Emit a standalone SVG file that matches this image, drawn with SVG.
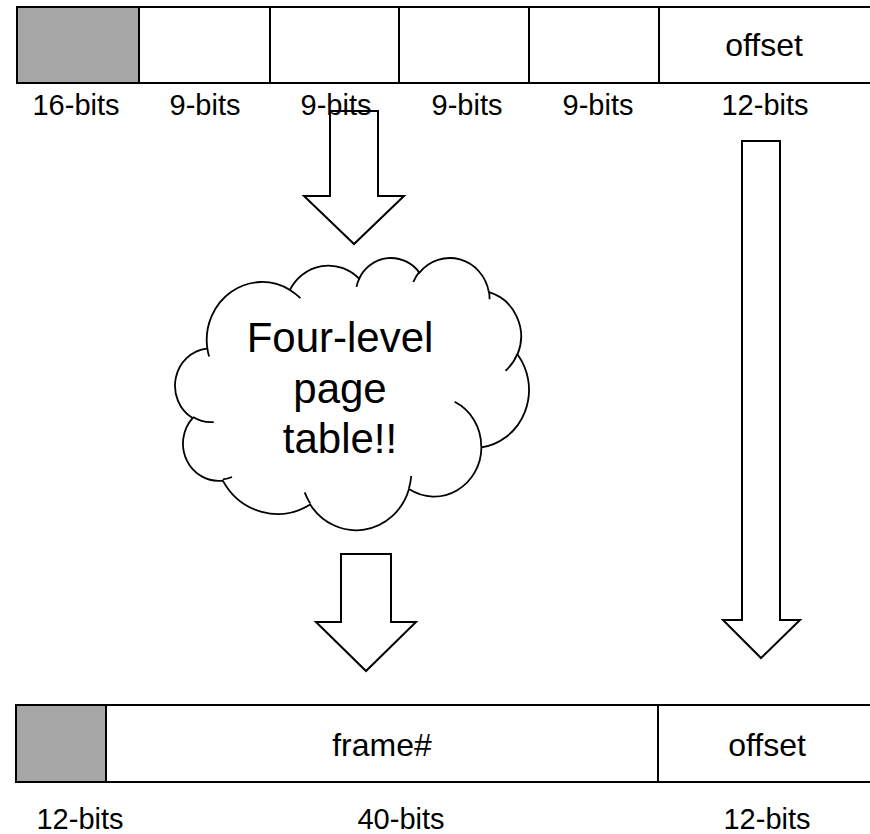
<svg xmlns="http://www.w3.org/2000/svg" width="870" height="834" viewBox="0 0 870 834">
  <style>
    .cell { stroke: #000; stroke-width: 2; fill: #fff; }
    .gray { fill: #a6a6a6; }
    .arrow { fill: #fff; stroke: #000; stroke-width: 2; stroke-linejoin: miter; }
    .cloud { fill: #fff; stroke: #000; stroke-width: 1.8; }
    .crease { fill: none; stroke: #000; stroke-width: 1.8; }
    text { font-family: "Liberation Sans", Arial, sans-serif; fill: #000; text-anchor: middle; }
    .lbl { font-size: 29px; }
    .in { font-size: 32px; }
    .big { font-size: 42px; }
  </style>
  <rect width="870" height="834" fill="#fff"/>

  <g id="connectors">
    <path class="arrow" d="M330,111 H378 V196 H404 L354,244 L304,196 H330 Z"/>
    <path class="arrow" d="M341,554 H391 V622 H416 L366,671 L316,622 H341 Z"/>
    <path class="arrow" d="M742,141 H780 V620 H800 L761,658 L723,620 H742 Z"/>
  </g>

  <g id="virtual-address">
    <rect class="cell gray" x="17" y="7" width="122" height="76"/>
    <rect class="cell" x="139" y="7" width="131" height="76"/>
    <rect class="cell" x="270" y="7" width="129" height="76"/>
    <rect class="cell" x="399" y="7" width="130" height="76"/>
    <rect class="cell" x="529" y="7" width="130" height="76"/>
    <rect class="cell" x="659" y="7" width="225" height="76"/>
    <text class="in" x="764" y="56">offset</text>
    <text class="lbl" x="76" y="115">16-bits</text>
    <text class="lbl" x="205" y="115">9-bits</text>
    <text class="lbl" x="336" y="115">9-bits</text>
    <text class="lbl" x="467" y="115">9-bits</text>
    <text class="lbl" x="598" y="115">9-bits</text>
    <text class="lbl" x="765" y="115">12-bits</text>
  </g>

  <g id="page-table">
    <g transform="translate(175.31,257.12) scale(0.008184,0.0063)">
      <path class="cloud" vector-effect="non-scaling-stroke" d="M3900,14370 A6753,9190 0 0 1 14005.2,5202.5 A5333,7267 0 0 1 22455.6,3432.2 A4365,5945 0 0 1 29831.7,2477.8 A4857,6595 0 0 1 38316.1,5574.3 A5333,7273 0 0 1 41816.5,15458 A6775,9220 0 0 1 37402.4,30201 A5785,7867 0 0 1 28554.7,36811.8 A6752,9215 0 0 1 16480.2,39265.8 A7720,10543 0 0 1 5803.3,35471.1 A4360,5918 0 0 1 2110.9,25551 A4345,5945 0 0 1 3861.3,14507.9 Z"/>
      <path class="crease" vector-effect="non-scaling-stroke" d="M4693,26177 A4345,5945 0 0 1 2159.3,25379.5 M6928,34899 A4360,5918 0 0 1 5818.8,35280.8 M16478,39090 A6752,9215 0 0 1 15809.1,37347.7 M28827,34751 A6752,9215 0 0 1 28560.5,36659.3 M34129,22954 A5785,7867 0 0 1 37380.2,30089.4 M41798,15354 A5333,7273 0 0 1 40349.3,18030.9 M38324,5426 A4857,6595 0 0 1 38400.4,6689.5 M29078,3952 A4857,6595 0 0 1 29820.7,2338.3 M22141,4720 A4365,5945 0 0 1 22499.9,3330.8 M14005.2,5202.5 A6753,9190 0 0 1 15282.5,6520.8 M4127,15789 A6753,9190 0 0 1 3900,14370"/>
    </g>
    <text class="big" x="340" y="352">Four-level</text>
    <text class="big" x="340" y="403">page</text>
    <text class="big" x="340" y="453">table!!</text>
  </g>

  <g id="physical-address">
    <rect class="cell gray" x="16" y="705" width="90" height="77"/>
    <rect class="cell" x="106" y="705" width="552" height="77"/>
    <rect class="cell" x="658" y="705" width="226" height="77"/>
    <text class="in" x="382" y="756">frame#</text>
    <text class="in" x="767" y="756">offset</text>
    <text class="lbl" x="80" y="829">12-bits</text>
    <text class="lbl" x="401" y="829">40-bits</text>
    <text class="lbl" x="767" y="829">12-bits</text>
  </g>
</svg>
